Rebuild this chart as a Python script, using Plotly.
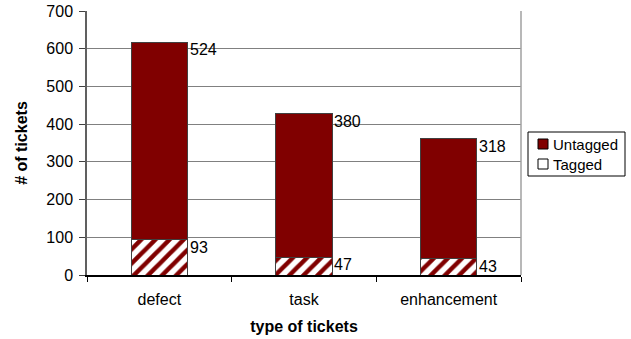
import plotly.graph_objects as go

categories = ["defect", "task", "enhancement"]
tagged = [93, 47, 43]
untagged = [524, 380, 318]
series_names = ["Untagged", "Tagged"]

DARK_RED = "#800000"
FONT = "Liberation Sans, Arial, sans-serif"
BAR_W = 0.39

# plot area in pixels
W, H = 631, 339
L, R, T, B = 87, 110, 11, 64
PW, PH = W - L - R, H - T - B


def px_x(x):
    return (x - L) / PW


def px_y(y):
    return (H - B - y) / PH


fig = go.Figure()
fig.add_trace(go.Bar(
    name="Tagged", x=categories, y=tagged, width=BAR_W, showlegend=False,
    marker=dict(color="white", line=dict(color="#404040", width=1),
                pattern=dict(shape="/", fgcolor=DARK_RED, bgcolor="white",
                             size=10, solidity=0.45, fillmode="replace")),
))
fig.add_trace(go.Bar(
    name="Untagged", x=categories, y=untagged, width=BAR_W, showlegend=False,
    marker=dict(color=DARK_RED, line=dict(color="#404040", width=1)),
))

# value labels to the right of each segment's upper edge
annotations = []
for i, (t, u) in enumerate(zip(tagged, untagged)):
    for top, val in ((t, t), (t + u, u)):
        annotations.append(dict(
            x=i + BAR_W / 2, y=top, xref="x", yref="y", text=str(val),
            showarrow=False, xanchor="left", yanchor="top", xshift=0, yshift=3,
            font=dict(family=FONT, size=16, color="black"),
        ))

# boxed legend at the right of the plot
shapes = [
    dict(type="line", xref="paper", yref="paper", x0=1, x1=1, y0=0, y1=1,
         line=dict(color="#a0a0a0", width=1.5)),
    dict(type="rect", xref="paper", yref="paper",
         x0=px_x(528), x1=px_x(625), y0=px_y(176), y1=px_y(132),
         line=dict(color="black", width=1), fillcolor="white"),
]
legend_fill = {"Untagged": DARK_RED, "Tagged": "white"}
for k, name in enumerate(series_names):
    cy = 144 + 20 * k
    shapes.append(dict(type="rect", xref="paper", yref="paper",
                       x0=px_x(538), x1=px_x(548), y0=px_y(cy + 5), y1=px_y(cy - 5),
                       line=dict(color="black", width=1), fillcolor=legend_fill[name]))
    annotations.append(dict(x=px_x(551), y=px_y(cy), xref="paper", yref="paper",
                            text=name, showarrow=False, xanchor="left", yanchor="middle",
                            font=dict(family=FONT, size=15, color="black")))

fig.update_layout(
    width=W, height=H,
    margin=dict(l=L, r=R, t=T, b=B, autoexpand=False),
    paper_bgcolor="white", plot_bgcolor="white",
    barmode="stack", bargap=0.61, showlegend=False,
    font=dict(family=FONT, size=16, color="black"),
    annotations=annotations, shapes=shapes,
)
fig.update_xaxes(
    type="category", showline=True, linecolor="black", linewidth=1.5,
    ticks="outside", tickson="boundaries", ticklen=5, tickcolor="black",
    ticklabelstandoff=9,
    tickfont=dict(family=FONT, size=16),
    title=dict(text="<b>type of tickets</b>", font=dict(family=FONT, size=16), standoff=14),
)
fig.update_yaxes(
    range=[0, 700], dtick=100, showline=True, linecolor="#606060", linewidth=1.5,
    ticks="outside", ticklen=6, tickcolor="#404040",
    ticklabelstandoff=3,
    showgrid=True, gridcolor="#808080", gridwidth=1,
    tickfont=dict(family=FONT, size=16),
    title=dict(text="<b># of tickets</b>", font=dict(family=FONT, size=16), standoff=15),
)

fig.write_html("out.html")
